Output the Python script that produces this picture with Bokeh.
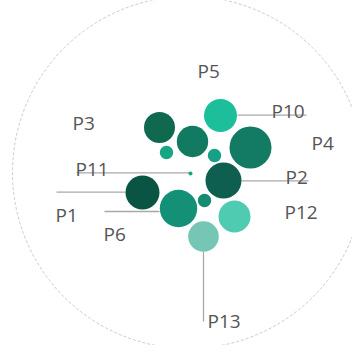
from bokeh.plotting import figure
from bokeh.models import Range1d, ColumnDataSource
from bokeh.core.properties import value
from bokeh.embed import file_html
from bokeh.resources import INLINE

# Bubble data (packed layout, in page pixel coordinates)
bubble_x = [159, 192, 220, 250, 166, 214, 190, 223, 142, 178, 204, 234, 203]
bubble_y = [135, 149, 123, 155, 160, 163, 181, 188, 200, 216, 208, 224, 244]
bubble_r = [15.5, 15.7, 16.5, 21, 6.7, 6.7, 2, 18, 17, 18.7, 6.7, 16, 15.3]
bubble_colors = ["#10684f", "#137a62", "#1dbf9b", "#137a64", "#17a586", "#16a085",
                 "#17a586", "#0e5f4f", "#0a5444", "#139076", "#158c72", "#4ecbb0", "#76c6b6"]

# Labels
label_names = ["P5", "P10", "P3", "P4", "P11", "P2", "P1", "P12", "P6", "P13"]
label_x = [197, 271, 72, 311, 75, 285, 55, 284, 103, 207]
label_y = [78, 118, 130, 150, 176, 184, 222, 219, 241, 328]

# Leader lines
lead_x0 = [237, 76, 241, 56, 104, 203]
lead_y0 = [122.7, 180.3, 188.3, 199.7, 219, 259]
lead_x1 = [306, 190, 308, 125, 159, 203]
lead_y1 = [122.7, 180.3, 188.3, 199.7, 219, 329]

W, H = 352, 345
p = figure(width=W, height=H, output_backend="svg", toolbar_location=None,
           x_range=Range1d(0, W), y_range=Range1d(8 + H, 8),
           x_axis_location=None, y_axis_location=None, min_border=0)
p.grid.visible = False
p.outline_line_color = None
p.background_fill_color = "white"
p.border_fill_color = "white"

# Outer circle
p.circle(x=[188], y=[180], radius=176, fill_color=None,
         line_color="#bdbdbd", line_width=0.8, line_dash="3 2")

# Leader lines
p.segment(x0=lead_x0, y0=lead_y0, x1=lead_x1, y1=lead_y1,
          line_color="#a8a8a8", line_width=1.3)

# Bubbles
src = ColumnDataSource(dict(x=bubble_x, y=bubble_y, r=bubble_r, c=bubble_colors))
p.circle(x="x", y="y", radius="r", fill_color="c", line_color=None, source=src)

# Labels
p.text(x=label_x, y=label_y, text=label_names, text_font=value("Open Sans"),
       text_font_size="19px", text_color="#555555", text_baseline="alphabetic",
       text_align="left")

open("out.html", "w").write(file_html(p, INLINE))
